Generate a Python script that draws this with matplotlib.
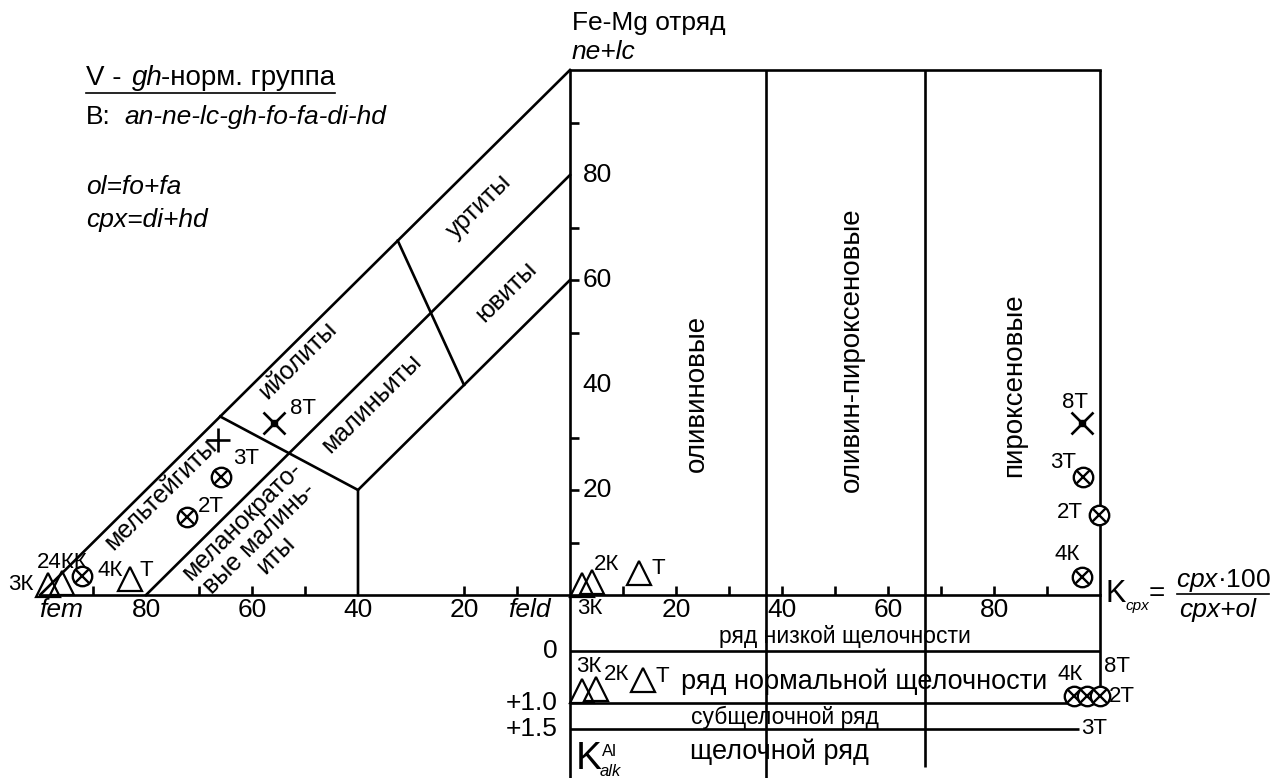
import matplotlib
matplotlib.use('Agg')
import matplotlib.pyplot as plt
from matplotlib.lines import Line2D

plt.rcParams['font.family'] = ['Liberation Sans', 'DejaVu Sans']
plt.rcParams['mathtext.fontset'] = 'custom'
plt.rcParams['mathtext.rm'] = 'Liberation Sans'
plt.rcParams['mathtext.it'] = 'Liberation Sans:italic'
plt.rcParams['mathtext.bf'] = 'Liberation Sans:bold'
plt.rcParams['mathtext.sf'] = 'Liberation Sans'

W, H = 1271, 778

# ---------------- data ----------------
# left triangle: x = -fem (fem=100 ... feld=0), y = ne+lc
outer_x = [-100, 0]; outer_y = [0, 100]
mid_x = [-80, 0]; mid_y = [0, 80]
inner_x = [-40, -40, 0]; inner_y = [0, 20, 60]
cut1_x = [-66, -40]; cut1_y = [34, 20]
cut2_x = [-32.5, -20]; cut2_y = [67.5, 40]

# right block: x = K_cpx, y = ne+lc ; lower block y = K_alk
kcpx_bounds = [37, 67]
alk_levels = [0, 1.0, 1.5]
alk_level_labels = ['0', '+1.0', '+1.5']
alk_level_ends = [100, 96, 96]

left_ticks = [-90, -70, -60, -50, -20, -10]
left_labels = [-80, -60, -40, -20]
right_ticks = [10, 20, 30, 40, 50, 60, 70, 80, 90]
right_labels = [20, 40, 60, 80]
y_ticks = [10, 20, 30, 50, 60, 70, 90]
y_labels = [20, 40, 60, 80]

# samples, triangle fem-feld vs ne+lc
tri_tri_x = [-98.5, -95.8, -83.0]; tri_tri_y = [1.9, 2.3, 3.0]
tri_circ_x = [-92.0, -72.3, -65.8]; tri_circ_y = [3.6, 14.9, 22.5]
tri_star_x = [-55.8]; tri_star_y = [32.8]
tri_plus_x = [-66.4]; tri_plus_y = [29.5]

# samples, K_cpx vs ne+lc
kc_tri_x = [2.3, 4.1, 13.0]; kc_tri_y = [1.9, 2.5, 4.2]
kc_circ_x = [96.6, 99.8, 96.8]; kc_circ_y = [3.4, 15.2, 22.5]
kc_star_x = [96.6]; kc_star_y = [32.8]

# samples, K_cpx vs K_alk
alk_tri_x = [2.3, 4.9, 13.8]; alk_tri_y = [0.77, 0.73, 0.56]
alk_circ_x = [95.0, 97.5, 100.0]; alk_circ_y = [0.87, 0.87, 0.87]

# ---------------- layout ----------------
X0, Y0 = 570, 595      # pixel of feld (K_cpx=0), ne+lc=0
SX, SY = 5.3, 5.25     # px per unit
ALK0, SALK = 651, 52   # pixel of K_alk=0, px per unit

fig = plt.figure(figsize=(W / 100, H / 100), dpi=100)
ax = fig.add_axes([0, (H - Y0) / H, 1, Y0 / H])
ax.set_xlim(-X0 / SX, (W - X0) / SX)
ax.set_ylim(0, Y0 / SY)
ax.axis('off')

axk = fig.add_axes([0, 0, 1, (H - Y0) / H])
axk.set_xlim(-X0 / SX, (W - X0) / SX)
K_TOP = (Y0 - ALK0) / SALK
K_BOT = (H - ALK0) / SALK
axk.set_ylim(K_BOT, K_TOP)
axk.axis('off')

LW = 1.9
lk = dict(color='black', lw=LW, solid_capstyle='projecting', clip_on=False)

def ftext(x, y, s, **kw):
    kw.setdefault('fontsize', 19)
    return fig.text(x / W, 1 - y / H, s, **kw)

# frame lines of the triangle
for xs, ys in [(outer_x, outer_y), (mid_x, mid_y), (inner_x, inner_y),
               (cut1_x, cut1_y), (cut2_x, cut2_y)]:
    ax.plot(xs, ys, **lk)
ax.plot([outer_x[0], 100], [0, 0], **lk)
ax.plot([0, 100], [100, 100], **lk)
ax.vlines([0, 100] + kcpx_bounds, 0, 100, colors='black', lw=LW, clip_on=False)

# lower block
axk.vlines([0, kcpx_bounds[0]], K_TOP, K_BOT, colors='black', lw=LW, clip_on=False)
axk.vlines(kcpx_bounds[1], K_TOP, 2.23, colors='black', lw=LW, clip_on=False)
axk.vlines(100, K_TOP, 1.0, colors='black', lw=LW, clip_on=False)
for lev, end in zip(alk_levels, alk_level_ends):
    axk.hlines(lev, 0, end, colors='black', lw=LW, clip_on=False)
for lev, lab in zip(alk_levels, alk_level_labels):
    axk.text(-2.4, lev, lab, ha='right', va='center', fontsize=19)

# ticks
TL = 1.8
ax.vlines(left_ticks, 0, TL, colors='black', lw=LW)
ax.vlines(right_ticks, 0, TL, colors='black', lw=LW)
ax.hlines(y_ticks, 0, TL * SY / SX, colors='black', lw=LW)

LY = -2.9
for v in left_labels:
    ax.text(v, LY, str(-v), ha='center', va='center', fontsize=19)
for v in right_labels:
    ax.text(v, LY, str(v), ha='center', va='center', fontsize=19)
for v in y_labels:
    ax.text(2.4, v, str(v), ha='left', va='center', fontsize=19)
ax.text(-96, LY, 'fem', ha='center', va='center', fontsize=19, style='italic')
ax.text(-7.7, LY, 'feld', ha='center', va='center', fontsize=19, style='italic')

# markers
def tri(a, xs, ys):
    a.plot(xs, ys, '^', ms=17, mfc='none', mec='black', mew=1.6, ls='none', clip_on=False, zorder=4)

def circx(a, xs, ys):
    for i, (x, y) in enumerate(zip(xs, ys)):
        a.plot(x, y, 'o', ms=14, mfc='white', mec='black', mew=1.7, clip_on=False, zorder=5 + 2 * i)
        a.plot(x, y, 'x', ms=9.5, mec='black', mew=1.7, clip_on=False, zorder=6 + 2 * i)

def star(a, xs, ys):
    a.plot(xs, ys, 'x', ms=16, mec='black', mew=1.9, ls='none', clip_on=False, zorder=5)
    a.plot(xs, ys, 's', ms=4, mfc='black', mec='black', ls='none', clip_on=False, zorder=6)

tri(ax, tri_tri_x, tri_tri_y)
circx(ax, tri_circ_x, tri_circ_y)
star(ax, tri_star_x, tri_star_y)
ax.plot(tri_plus_x, tri_plus_y, '+', ms=17, mec='black', mew=1.9, ls='none', zorder=5)

tri(ax, kc_tri_x, kc_tri_y)
circx(ax, kc_circ_x, kc_circ_y)
star(ax, kc_star_x, kc_star_y)

tri(axk, alk_tri_x, alk_tri_y)
circx(axk, alk_circ_x, alk_circ_y)

# sample labels
pl = dict(fontsize=16, ha='center', va='center')
for x, y, s in [(21, 585, '3К'), (62, 562, '24КК'), (110, 570, '4К'), (146, 570, 'Т'),
                (211, 506, '2Т'), (246, 459, '3Т'), (303, 409, '8Т'),
                (607, 564, '2К'), (658, 569, 'Т'), (590, 609, '3К'),
                (1075, 402, '8Т'), (1063, 462, '3Т'), (1070, 513, '2Т'), (1067, 555, '4К'),
                (589, 666, '3К'), (617, 675, '2К'), (662, 676, 'Т'),
                (1070, 675, '4К'), (1117, 666, '8Т'), (1122, 697, '2Т'), (1094, 728, '3Т')]:
    ftext(x, y, s, **pl)

# field names in the triangle
rl = dict(fontsize=18, rotation=44.7, rotation_mode='anchor', ha='center', va='center')
ftext(161, 494, 'мельтейгиты', **rl)
ftext(298, 360, 'ийолиты', **rl)
ftext(479, 206, 'уртиты', **rl)
ftext(372, 403, 'малиньиты', **rl)
ftext(506, 292, 'ювиты', **rl)
ftext(259, 538, 'меланократо-\nвые малинь-\nиты', multialignment='center', linespacing=1.0, **rl)

# field names in the K_cpx block
vl = dict(fontsize=20, rotation=90, ha='center', va='center')
ftext(697, 393, 'оливиновые', **vl)
ftext(852, 350, 'оливин-пироксеновые', **vl)
ftext(1014, 385, 'пироксеновые', **vl)

# alkalinity series
ftext(845, 636, 'ряд низкой щелочности', fontsize=16.5, ha='center', va='center')
ftext(864, 682, 'ряд нормальной щелочности', fontsize=19.5, ha='center', va='center')
ftext(785, 717, 'субщелочной ряд', fontsize=16.5, ha='center', va='center')
ftext(779, 752, 'щелочной ряд', fontsize=19.5, ha='center', va='center')
ftext(576, 759, 'K', fontsize=28, ha='left', va='center')
ftext(602, 751, 'Al', fontsize=12, ha='left', va='center')
ftext(600, 771, 'alk', fontsize=12, ha='left', va='center', style='italic')

# K_cpx formula
ftext(1106, 594, 'K', fontsize=22, ha='left', va='center')
ftext(1125, 606, 'cpx', fontsize=11, ha='left', va='center', style='italic')
ftext(1157, 594, '=', fontsize=20, ha='center', va='center')
ftext(1223, 580, r'$cpx$·100', fontsize=19, ha='center', va='center')
ftext(1218, 610, 'cpx+ol', fontsize=19, ha='center', va='center', style='italic')
fig.add_artist(Line2D([1177 / W, 1269 / W], [1 - 594 / H, 1 - 594 / H], color='black', lw=1.2))

# headers
ftext(572, 23, 'Fe-Mg отряд', fontsize=19, ha='left', va='center')
ftext(572, 52, 'ne+lc', fontsize=19, ha='left', va='center', style='italic')
ftext(86, 78, 'V -', fontsize=20, ha='left', va='center')
ftext(132, 78, 'gh', fontsize=20, ha='left', va='center', style='italic')
t = ftext(161, 78, '-норм. группа', fontsize=20, ha='left', va='center')
ftext(86, 117, 'B:', fontsize=19, ha='left', va='center')
ftext(124, 117, 'an-ne-lc-gh-fo-fa-di-hd', fontsize=19, ha='left', va='center', style='italic')
ftext(86, 187, 'ol=fo+fa', fontsize=19, ha='left', va='center', style='italic')
ftext(86, 220, 'cpx=di+hd', fontsize=19, ha='left', va='center', style='italic')

fig.canvas.draw()
bb = t.get_window_extent().transformed(fig.transFigure.inverted())
fig.add_artist(Line2D([86 / W, bb.x1], [bb.y0 - 2 / H, bb.y0 - 2 / H], color='black', lw=1.2))

fig.savefig('out.png', dpi=100)
